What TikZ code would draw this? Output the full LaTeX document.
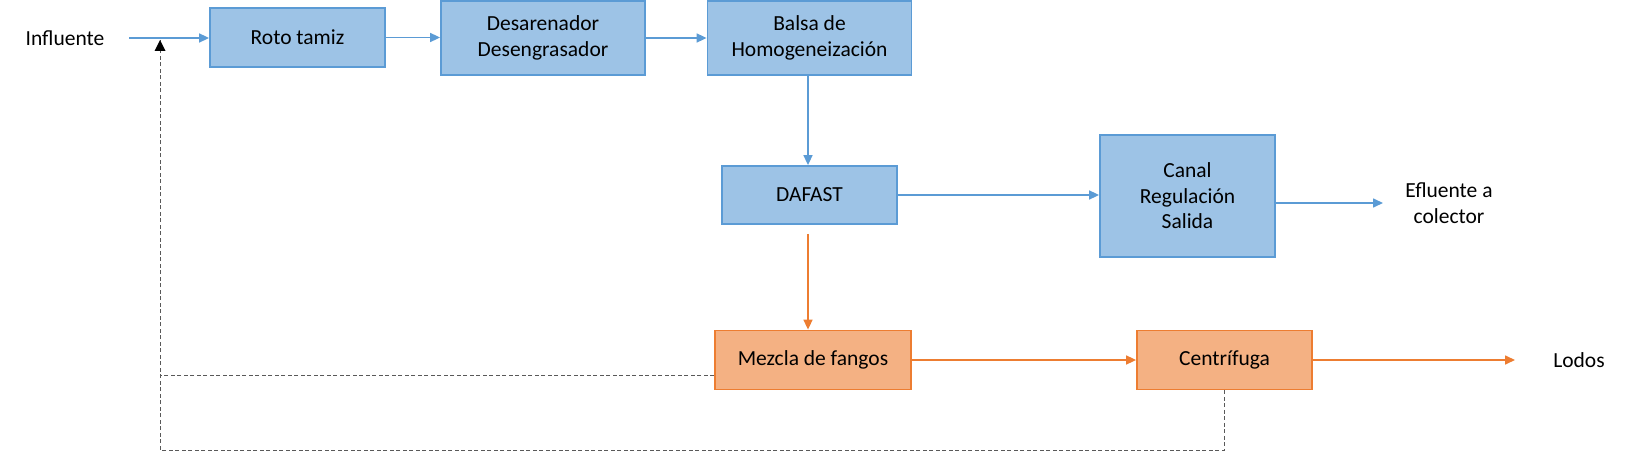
\documentclass[tikz,border=0pt]{standalone}
\usepackage{fontspec}
\setmainfont{Carlito}
\usetikzlibrary{arrows.meta,calc}
\definecolor{bfill}{HTML}{9DC3E6}
\definecolor{bline}{HTML}{5B9BD5}
\definecolor{ofill}{HTML}{F4B183}
\definecolor{oline}{HTML}{ED7D31}
\definecolor{dline}{HTML}{595959}
\begin{document}
\begin{tikzpicture}[x=1pt,y=-1pt,
  every node/.style={font=\fontsize{21.5}{25.5}\selectfont, align=center, inner sep=0pt},
  bluebox/.style={draw=bline, fill=bfill, line width=1.8pt},
  orangebox/.style={draw=oline, fill=ofill, line width=1.8pt},
  bflow/.style={draw=bline, line width=1.6pt, -{Triangle[length=10pt,width=9pt]}},
  oflow/.style={draw=oline, line width=1.6pt, -{Triangle[length=10pt,width=9pt]}},
  recyc/.style={draw=dline, line width=1pt, dash pattern=on 4pt off 2.5pt},
  plain/.style={}]
\useasboundingbox (0,0) rectangle (1644,452);
% nodes
\node[plain] (influente) at (65,38) {Influente};
\node[bluebox, minimum width=175pt, minimum height=59pt] (roto) at (297.5,37.5) {Roto tamiz};
\node[bluebox, minimum width=204pt, minimum height=74pt] (desa) at (543,38) {Desarenador\\Desengrasador};
\node[bluebox, minimum width=204pt, minimum height=74pt] (balsa) at (809.5,38) {Balsa de\\Homogeneización};
\node[bluebox, minimum width=175pt, minimum height=58pt] (dafast) at (809.5,195) {DAFAST};
\node[bluebox, minimum width=175pt, minimum height=122pt] (canal) at (1187.5,196) {Canal\\Regulación\\Salida};
\node[plain] (efluente) at (1449,203) {Efluente a\\colector};
\node[orangebox, minimum width=196pt, minimum height=59pt] (mezcla) at (813,360) {Mezcla de fangos};
\node[orangebox, minimum width=175pt, minimum height=59pt] (centri) at (1224.5,360) {Centrífuga};
\node[plain] (lodos) at (1579,360) {Lodos};
% free ends
\coordinate (inStart) at (129,38);
\coordinate (efEnd) at (1383,203);
\coordinate (loEnd) at (1515,360);
\coordinate (rTop) at (160,40);
\coordinate (rMid) at (160,375);
\coordinate (rBot) at (160,450);
% blue flow
\draw[bflow] (inStart) -- (roto.west |- inStart);
\draw[bflow] (roto.east) -- (desa.west |- roto.east);
\draw[bflow] (desa.east) -- (balsa.west);
\draw[bflow] ([xshift=-1.5pt]balsa.south) -- ([xshift=-1.5pt]dafast.north);
\draw[bflow] (dafast.east) -- (canal.west |- dafast.east);
\draw[bflow] (canal.east |- efEnd) -- (efEnd);
% orange flow
\draw[oflow] ([xshift=-1.5pt,yshift=-9pt]dafast.south) -- ([xshift=-1.5pt]dafast.south |- mezcla.north);
\draw[oflow] (mezcla.east) -- (centri.west);
\draw[oflow] (centri.east) -- (loEnd);
% recycle
\draw[recyc] ([yshift=-15pt]mezcla.west) -- (rMid);
\draw[recyc] (centri.south) -- (centri.south |- rBot) -- (rBot) -- (rTop);
\fill[black] (rTop) -- ++(-5.5,11) -- ++(11,0) -- cycle;
\end{tikzpicture}
\end{document}
